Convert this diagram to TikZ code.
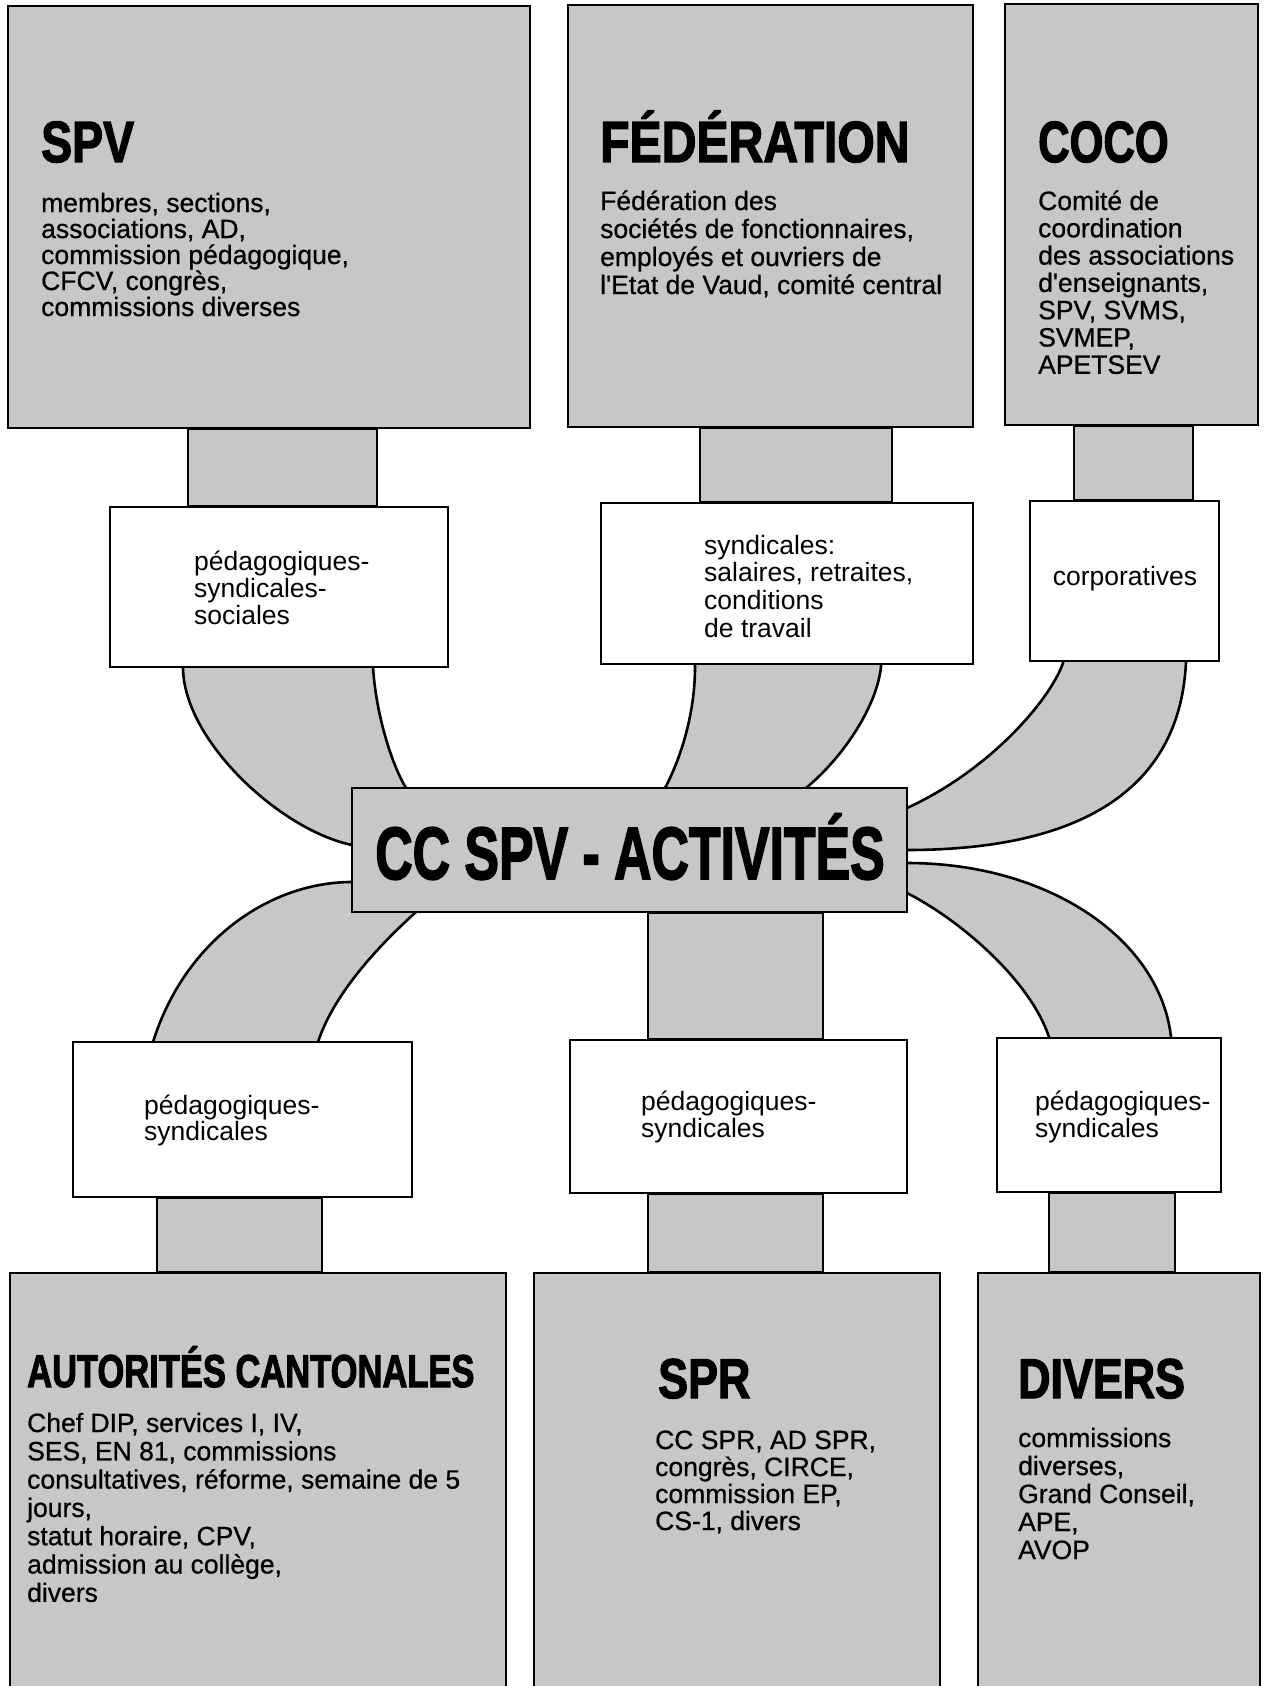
\documentclass[tikz,border=0pt]{standalone}
\usepackage{fontspec}
\usepackage{graphicx}
\setmainfont{Liberation Sans}
\newfontfamily\mytitlefont[FakeBold=2.5]{Liberation Sans}
\newfontfamily\mygrayfont[FakeBold=0.7]{Liberation Sans}
\usetikzlibrary{fit}
\definecolor{screen}{gray}{0.78}
\pgfdeclarelayer{bg}
\pgfsetlayers{bg,main}
\newcommand\lines[2]{\vtop{\baselineskip=#1pt\relax\lineskiplimit=-100pt\relax\lineskip=0pt\relax\halign{##\hfil\cr#2\crcr}}}
\begin{document}
\begin{tikzpicture}[x=1pt,y=-1pt,
  graybox/.style={draw=black, line width=2pt, fill=screen, inner sep=0pt},
  whitebox/.style={draw=black, line width=2pt, fill=white, inner sep=0pt},
  band/.style={draw=black, line width=2.6pt, fill=screen, line join=miter},
  stub/.style={draw=black, line width=2pt, fill=screen},
  bigtitle/.style={inner sep=0pt, anchor=base west, font=\mytitlefont\bfseries\fontsize{58}{60}\selectfont},
  lowtitle/.style={inner sep=0pt, anchor=base west, font=\mytitlefont\bfseries\fontsize{56}{58}\selectfont},
  graytext/.style={inner sep=0pt, anchor=base west, font=\mygrayfont\fontsize{26.5}{27}\selectfont},
  label/.style={inner sep=0pt, anchor=base west, font=\fontsize{26.5}{27}\selectfont},
]
\useasboundingbox (0,0) rectangle (1264,1686);

% top boxes
\node[graybox, fit={(8,6)(530,428)}] (spv) {};
\node[graybox, fit={(568,5)(973,427)}] (fed) {};
\node[graybox, fit={(1005,4)(1258,425)}] (coco) {};
% upper white boxes
\node[whitebox, fit={(110,507)(448,667)}] (pA) {};
\node[whitebox, fit={(601,503)(973,664)}] (pB) {};
\node[whitebox, fit={(1030,501)(1219,661)}] (pC) {};
% centre
\node[graybox, fit={(352,788)(907,912)}] (cc) {};
% lower white boxes
\node[whitebox, fit={(73,1042)(412,1197)}] (pD) {};
\node[whitebox, fit={(570,1040)(907,1193)}] (pE) {};
\node[whitebox, fit={(997,1038)(1221,1192)}] (pF) {};
% bottom boxes
\node[graybox, fit={(10,1273)(506,1690)}] (aut) {};
\node[graybox, fit={(534,1273)(940,1690)}] (spr) {};
\node[graybox, fit={(978,1273)(1260,1690)}] (div) {};

% titles
\node[bigtitle] (spvT) at (41,162) {\scalebox{0.8}[1]{SPV}};
\node[bigtitle] (fedT) at (600,162) {\scalebox{0.83}[1]{FÉDÉRATION}};
\node[bigtitle] (cocoT) at (1038,162) {\scalebox{0.75}[1]{COCO}};
\node[inner sep=0pt, anchor=base, font=\mytitlefont\bfseries\fontsize{74}{76}\selectfont] (ccT) at (630,879) {\scalebox{0.7}[1]{CC SPV - ACTIVITÉS}};
\node[inner sep=0pt, anchor=base west, font=\mytitlefont\bfseries\fontsize{46}{48}\selectfont] (autT) at (27,1387) {\scalebox{0.75}[1]{AUTORITÉS CANTONALES}};
\node[lowtitle] (sprT) at (658,1398) {\scalebox{0.8}[1]{SPR}};
\node[lowtitle] (divT) at (1018,1398) {\scalebox{0.8}[1]{DIVERS}};

% body texts in grey boxes
\node[graytext] (spvB) at (41,212) {\lines{26}{membres, sections,\cr associations, AD,\cr commission pédagogique,\cr CFCV, congrès,\cr commissions diverses}};
\node[graytext] (fedB) at (600,210) {\lines{28}{Fédération des\cr sociétés de fonctionnaires,\cr employés et ouvriers de\cr l'Etat de Vaud, comité central}};
\node[graytext] (cocoB) at (1038,210) {\lines{27.3}{Comité de\cr coordination\cr des associations\cr d'enseignants,\cr SPV, SVMS,\cr SVMEP,\cr APETSEV}};
\node[graytext] (autB) at (27,1432) {\lines{28.3}{Chef DIP, services I, IV,\cr SES, EN 81, commissions\cr consultatives, réforme, semaine de 5\cr jours,\cr statut horaire, CPV,\cr admission au collège,\cr divers}};
\node[graytext] (sprB) at (655,1449) {\lines{27}{CC SPR, AD SPR,\cr congrès, CIRCE,\cr commission EP,\cr CS-1, divers}};
\node[graytext] (divB) at (1018,1447) {\lines{28}{commissions\cr diverses,\cr Grand Conseil,\cr APE,\cr AVOP}};

% labels in white boxes
\node[label] (tA) at (194,570) {\lines{27}{pédagogiques-\cr syndicales-\cr sociales}};
\node[label] (tB) at (704,554) {\lines{27.7}{syndicales:\cr salaires, retraites,\cr conditions\cr de travail}};
\node[inner sep=0pt, anchor=base, font=\fontsize{26.5}{27}\selectfont] (tC) at (1125,585) {corporatives};
\node[label] (tD) at (144,1114) {\lines{26}{pédagogiques-\cr syndicales}};
\node[label] (tE) at (641,1110) {\lines{27}{pédagogiques-\cr syndicales}};
\node[label] (tF) at (1035,1110) {\lines{27}{pédagogiques-\cr syndicales}};

\begin{pgfonlayer}{bg}
\fill[white] (0,0) rectangle (1264,1686);
% curved bands
\draw[band] (183,660) -- (183,667) .. controls (183,740) and (280,830) .. (352,845)
  -- (420,845) -- (420,800) -- (406,788) .. controls (392,765) and (376,715) .. (373,667)
  -- (373,660) -- cycle;
\draw[band] (695,660) -- (695,667) .. controls (695,715) and (680,760) .. (665,788)
  -- (660,800) -- (800,800) -- (806,788) .. controls (840,760) and (876,710) .. (881,667)
  -- (881,660) -- cycle;
\draw[band] (1063,655) -- (1063,663) .. controls (1050,700) and (990,770) .. (907,808)
  -- (895,808) -- (895,850) -- (907,850) .. controls (1080,850) and (1180,790) .. (1186,662)
  -- (1186,655) -- cycle;
\draw[band] (360,882) -- (352,882) .. controls (270,882) and (185,940) .. (153,1042)
  -- (153,1050) -- (318,1050) -- (318,1042) .. controls (335,990) and (385,940) .. (416,912)
  -- (416,900) -- (360,900) -- cycle;
\draw[band] (900,863) -- (907,863) .. controls (1050,863) and (1160,940) .. (1171,1037)
  -- (1171,1045) -- (1049,1045) -- (1049,1037) .. controls (1030,980) and (960,920) .. (907,893)
  -- (900,893) -- cycle;
% straight stubs
\draw[stub] (188,0 |- spv.south) rectangle (377,0 |- pA.north);
\draw[stub] (700,0 |- fed.south) rectangle (892,0 |- pB.north);
\draw[stub] (1074,0 |- coco.south) rectangle (1193,0 |- pC.north);
\draw[stub] (648,0 |- cc.south) rectangle (823,0 |- pE.north);
\draw[stub] (157,0 |- pD.south) rectangle (322,0 |- aut.north);
\draw[stub] (648,0 |- pE.south) rectangle (823,0 |- spr.north);
\draw[stub] (1049,0 |- pF.south) rectangle (1175,0 |- div.north);
\end{pgfonlayer}
\end{tikzpicture}
\end{document}
